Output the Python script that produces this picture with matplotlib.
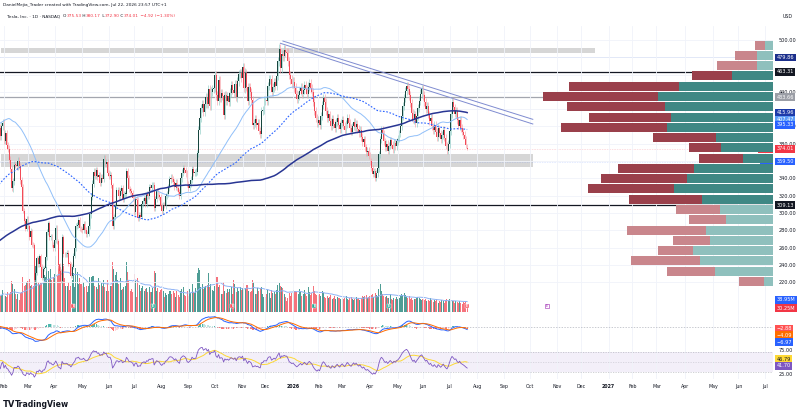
import numpy as np
import pandas as pd
import matplotlib
matplotlib.use("Agg")
import matplotlib.pyplot as plt
import matplotlib.transforms as mtransforms
from matplotlib.offsetbox import TextArea, HPacker, AnchoredOffsetbox
from pandas.tseries.holiday import USFederalHolidayCalendar
from pandas.tseries.offsets import CustomBusinessDay

plt.rcParams['font.family'] = ['DejaVu Sans']

# =============================================================================
#                               Data
# =============================================================================
# weekly closes Apr 2024 - Jan 2025, only used to warm up MAs / MACD / RSI
warmup_weekly = [164.9, 171.1, 147.1, 168.3, 181.2, 171.9, 177.5, 179.2, 178.1,
                 177.5, 178.0, 183.0, 197.9, 251.5, 248.2, 239.2, 219.8, 207.7,
                 200.0, 216.1, 220.3, 214.1, 210.7, 230.3, 238.3, 260.5, 250.1,
                 217.8, 220.7, 269.2, 248.9, 321.2, 320.7, 352.6, 345.2, 389.2,
                 436.2, 421.1, 431.7, 410.4, 394.7, 426.5, 406.6]

# daily closes, Jan 27 2025 -> Dec 31 2025
close_2025 = [
    397.2, 398.1, 389.1, 400.3, 404.6,
    383.7, 392.2, 378.2, 374.3, 361.6, 350.7, 328.5, 336.5, 355.9, 355.8, 354.1,
    360.6, 354.4, 337.8, 330.5, 302.8, 290.8, 281.9, 292.9,
    284.6, 272.0, 279.1, 263.5, 262.7, 222.2, 230.5, 248.0, 240.6, 249.9, 238.0,
    225.3, 235.8, 236.2, 248.7, 278.3, 288.1, 272.0, 273.1, 263.5, 259.2,
    268.5, 282.7, 267.3, 239.4, 233.3, 221.8, 272.2, 252.4, 252.3, 252.4, 254.1,
    241.4, 241.3, 227.5, 237.9, 250.7, 259.5, 284.9, 285.9, 292.0, 282.2, 281.0,
    280.5, 287.2, 280.3, 275.4, 276.2, 284.8, 298.3, 318.4, 334.1, 347.7, 342.8,
    349.9, 342.1, 343.8, 334.6, 341.0, 339.3, 362.9, 356.9, 358.4, 346.5,
    342.7, 344.3, 332.1, 284.7, 295.1, 308.6, 326.1, 326.4, 319.1, 325.3, 329.1,
    316.4, 322.1, 322.2, 348.7, 340.5, 327.6, 325.8, 323.6, 317.7,
    300.7, 315.7, 315.4, 293.9, 297.8, 295.9, 309.9, 313.5, 316.9, 310.8, 321.7,
    319.4, 329.7, 328.5, 332.1, 332.6, 305.3, 316.1, 325.6, 321.2, 319.0, 308.3,
    302.6, 309.3, 308.7, 319.9, 322.3, 329.7, 339.0, 340.8, 339.4, 335.6, 330.6,
    335.2, 329.3, 323.9, 320.1, 340.0, 346.6, 351.7, 349.6, 345.9, 333.9,
    329.4, 334.1, 338.5, 350.8, 346.4, 346.9, 347.8, 368.8, 395.9, 410.0, 421.6,
    425.9, 416.9, 426.1, 434.2, 425.9, 442.8, 423.4, 440.4, 443.2, 444.7,
    459.5, 436.0, 429.8, 453.3, 433.1, 438.7, 435.5, 413.5, 435.9, 429.2, 435.2,
    428.8, 439.3, 447.4, 442.6, 438.9, 448.9, 433.7, 452.4, 460.6, 461.5, 456.6,
    468.4, 444.3, 462.1, 445.9, 429.5, 445.2, 439.6, 430.6, 401.9, 404.4, 408.9,
    401.3, 403.9, 395.2, 391.1, 417.8, 419.4, 430.1,
    430.1, 429.2, 446.7, 454.5, 455.0, 439.6, 445.2, 451.5, 446.9, 458.9, 475.3,
    489.9, 467.3, 483.4, 481.2, 488.7, 485.6, 485.4, 475.2, 459.6, 454.4, 449.7,
]

# daily closes, Jan 2 2026 -> Jul 22 2026
close_2026 = [
    452, 445, 438, 432, 436, 441, 445, 438, 442, 448, 443, 438, 446, 450, 444,
    440, 428, 418, 410, 404,
    408, 402, 412, 425, 433, 428, 418, 410, 414, 406, 400, 409, 403, 398, 405,
    410, 402, 397, 404,
    408, 401, 396, 403, 410, 404, 398, 394, 400, 405, 399, 403, 397, 392, 396,
    388, 382, 385, 376, 370, 372, 366,
    360, 352, 345, 348, 341, 346, 352, 368, 385, 396, 392, 383, 376, 380, 372,
    378, 384, 379, 374, 381, 377, 383,
    386, 392, 400, 412, 424, 433, 441, 447, 443, 436, 427, 416, 408, 414, 404,
    412, 421, 430, 438, 443,
    436, 428, 420, 424, 414, 406, 410, 400, 396, 402, 394, 388, 398, 392, 385,
    390, 396, 387, 378, 372, 380,
    395, 414, 428, 422, 415, 418, 407, 401, 408, 398, 394, 390, 385, 378.93, 374.01,
]

# daily volume (millions)
vol_2025 = [
    60, 68, 62, 65, 83,
    77, 62, 57, 77, 70, 77, 118, 106, 89, 68, 51, 67, 45, 74, 76, 134, 100, 101, 115,
    116, 126, 98, 102, 100, 190, 174, 114, 114, 101, 111, 111, 111, 142, 132, 170,
    157, 126, 162, 123, 134,
    146, 212, 136, 181, 184, 171, 219, 182, 128, 100, 100, 113, 83, 97, 120, 150,
    94, 167, 151, 108, 128, 108,
    99, 114, 95, 100, 75, 97, 132, 132, 136, 136, 97, 95, 88, 131, 102, 110, 98,
    120, 95, 81, 123,
    81, 99, 99, 190, 164, 140, 151, 122, 105, 128, 83, 88, 95, 99, 190, 153, 119,
    80, 89, 76,
    145, 119, 58, 131, 103, 80, 92, 97, 79, 88, 91, 75, 94, 77, 77, 92, 156, 148,
    81, 92, 77, 85,
    89, 78, 57, 72, 65, 70, 80, 78, 67, 80, 74, 56, 78, 64, 56, 81, 86, 94, 65, 61, 81,
    59, 88, 73, 108, 75, 72, 90, 150, 168, 158, 95, 105, 89, 95, 100, 102, 150, 96,
    105, 85, 81,
    98, 132, 133, 95, 102, 70, 70, 113, 80, 72, 88, 75, 89, 95, 68, 120, 105, 75,
    90, 80, 95, 82,
    90, 110, 90, 102, 104, 80, 75, 80, 120, 115, 70, 70, 90, 80, 90, 95, 70, 56,
    58, 68, 82, 72, 55, 84, 72, 75, 70, 85, 102, 110, 100, 96, 90, 68, 58, 40, 55,
    74, 60, 72,
]
vol_2026 = [
    85, 80, 78, 76, 70, 88, 75, 62, 68, 82, 70, 60, 95, 76, 66, 72, 100, 80, 70, 64,
    66, 70, 62, 78, 72, 58, 55, 60, 52, 56, 64, 50, 54, 60, 48, 58, 55, 52, 50,
    55, 48, 52, 60, 50, 46, 52, 58, 48, 45, 50, 56, 48, 52, 45, 55, 62, 58, 60, 66,
    54, 58,
    62, 66, 70, 58, 72, 64, 60, 88, 106, 80, 70, 62, 56, 60, 52, 55, 68, 50, 46, 52,
    48, 56,
    50, 54, 62, 70, 66, 72, 64, 58, 52, 60, 48, 54, 45, 50, 48, 52, 58, 55, 50, 46,
    48, 44, 50, 42, 46, 40, 52, 45, 38, 44, 40, 48, 36, 42, 38, 44, 40, 36, 46, 50, 42,
    48, 44, 42, 40, 36, 42, 38, 34, 40, 36, 32, 38, 35, 40, 30.25,
]

last_ohlc = (375.53, 380.17, 372.90, 374.01)

# visible-range volume profile, bins from 215 upward (millions, up / down)
vp_low, vp_step = 215.0, 11.875
vp_up = [90, 580, 730, 800, 630, 670, 470, 530, 710, 990, 860, 790, 300, 520,
         570, 1060, 1020, 1080, 1150, 940, 410, 160, 160, 80]
vp_down = [250, 480, 690, 350, 370, 790, 370, 440, 730, 860, 860, 760, 440, 320,
           630, 1060, 820, 980, 1150, 1100, 400, 400, 220, 100]
va_rows = (8, 20)

levels = {479.86: '#8ea2e6', 463.31: '#131722', 433.66: '#a3a6af', 309.13: '#131722'}
zones = [('2025-01-30', '2026-12-16', 484.6, 490.6),
         ('2025-01-30', '2026-10-05', 353.0, 368.0)]
trendlines = [(('2025-12-19', 498.8), ('2026-10-05', 408.3)),
              (('2025-12-17', 496.2), ('2026-10-05', 402.9))]
earnings = [('2025-04-22', '#f7525f'), ('2025-07-23', '#22ab94'),
            ('2025-10-22', '#f7525f'), ('2026-01-28', '#22ab94'),
            ('2026-04-22', '#22ab94'), ('2026-07-22', '#f7525f')]
next_earnings = '2026-10-21'

# =============================================================================
#                               Series
# =============================================================================
close = np.array(close_2025 + close_2026, dtype=float)
vol = np.array(vol_2025 + vol_2026, dtype=float)
n = min(len(close), len(vol))
close, vol = close[-n:], vol[-n:]

bday = CustomBusinessDay(calendar=USFederalHolidayCalendar())
dates = pd.date_range(end='2026-07-22', periods=n, freq=bday)
future = pd.date_range(start='2026-07-23', end='2027-08-12', freq=bday)
all_dates = dates.append(future)
xi = np.arange(n)

def idx(d):
    return int(all_dates.searchsorted(pd.Timestamp(d)))

opn = np.r_[close[0], close[:-1]]
opn[-1] = last_ohlc[0]
wick = 0.011 * close
hi = np.maximum(opn, close) + wick
lo = np.minimum(opn, close) - wick
hi[-1], lo[-1] = last_ohlc[1], last_ohlc[2]

s = pd.Series(np.r_[np.repeat(warmup_weekly, 5), close])
sma50 = s.rolling(50).mean().values[-n:]
sma100 = s.rolling(100).mean().values[-n:]
sma200 = s.rolling(200).mean().values[-n:]

macd = s.ewm(span=12, adjust=False).mean() - s.ewm(span=26, adjust=False).mean()
signal = macd.ewm(span=9, adjust=False).mean()
hist = (macd - signal).values[-n:]
macd, signal = macd.values[-n:], signal.values[-n:]

d = s.diff()
gain = d.clip(lower=0).ewm(alpha=1 / 14, adjust=False).mean()
loss = (-d.clip(upper=0)).ewm(alpha=1 / 14, adjust=False).mean()
rsi_s = 100 - 100 / (1 + gain / loss)
rsi = rsi_s.values[-n:]
rsi_ma = rsi_s.rolling(14).mean().values[-n:]

vol_ma = pd.Series(vol).rolling(20, min_periods=1).mean().values

# =============================================================================
#                               Figure
# =============================================================================
W, H = 800, 415
RIGHT = 773
fig = plt.figure(figsize=(W / 100, H / 100), dpi=100)
fig.patch.set_facecolor('white')

def pane(top, bottom, z):
    a = fig.add_axes([0, 1 - bottom / H, RIGHT / W, (bottom - top) / H])
    a.set_zorder(z)
    a.patch.set_visible(False)
    for sp in a.spines.values():
        sp.set_visible(False)
    return a

ax_vol = pane(230, 312, 1)
ax = pane(26, 315, 2)
ax_vp = pane(26, 315, 3)
ax_macd = pane(315, 347, 2)
ax_rsi = pane(347, 379, 2)

# x mapping: Mar 2025 label at px 28, Jul 2027 label at px 765
i_a, i_b = idx('2025-03-01'), idx('2027-07-01')
b = (765 - 28) / (i_b - i_a)
a0 = 28 - b * i_a
xlim = (-a0 / b, (RIGHT - a0) / b)

months = [i for i in range(1, len(all_dates)) if all_dates[i].month != all_dates[i - 1].month]
mlabels = [str(all_dates[i].year) if all_dates[i].month == 1 else all_dates[i].strftime('%b')
           for i in months]

grid_c = '#f0f3fa'
for a in (ax, ax_vol, ax_macd, ax_rsi):
    a.set_xticks(months)
    a.set_xlim(*xlim)
    a.tick_params(axis='x', length=0, labelbottom=False)
    a.tick_params(axis='y', length=0)
for a in (ax, ax_macd, ax_rsi):
    a.grid(True, axis='x', color=grid_c, lw=0.6)
ax.grid(True, axis='y', color=grid_c, lw=0.6)
ax_vol.set_yticks([])

ax_rsi.set_xticklabels(mlabels)
ax_rsi.tick_params(axis='x', labelbottom=True, labelsize=3.4, colors='#131722', pad=3.5)
for t in ax_rsi.get_xticklabels():
    if t.get_text().isdigit():
        t.set_fontweight('bold')

# ---- price pane
ylo, yhi = 500 - (315 - 40) / 0.865, 500 + (40 - 26) / 0.865
ax.set_ylim(ylo, yhi)
ax.yaxis.tick_right()
pticks = np.arange(220, 501, 20)
ax.set_yticks(pticks)
# ticks that sit fully under a coloured price tag are not shown
ax.set_yticklabels(['' if p in (360, 420, 460, 480) else f'{p:.2f}' for p in pticks])
ax.tick_params(axis='y', labelsize=3.6, colors='#131722', pad=4)

for x0, x1, p0, p1 in zones:
    ax.fill_between([idx(x0), idx(x1)], p0, p1, color='#d6d6d6', lw=0, zorder=1)
for lv, col in levels.items():
    ax.axhline(lv, color=col, lw=0.9 if col != '#8ea2e6' else 0.6, zorder=1.5)
ax.axhline(last_ohlc[3], color='#f23645', lw=0.4, ls=(0, (1, 2)), alpha=0.5, zorder=1.5)
ax.axhline(359.50, color='#2962ff', lw=0.4, ls=(0, (1, 2)), alpha=0.4, zorder=1.5)
for (d0, p0), (d1, p1) in trendlines:
    ax.plot([idx(d0), idx(d1)], [p0, p1], color='#7f8bd0', lw=0.7, zorder=2)

up = close >= opn
ax.vlines(xi, lo, hi, colors=np.where(up, '#8fcdc4', '#f6a0a7'), lw=0.45, zorder=3)
ax.bar(xi, np.maximum(np.abs(close - opn), 0.5), bottom=np.minimum(opn, close),
       width=0.75, color=np.where(up, '#17463f', '#f24b58'), lw=0, zorder=4)

ax.plot(xi, sma50, color='#90bff9', lw=0.7, zorder=5)
ax.plot(xi, sma100, color='#2962ff', lw=0.8, ls=(0, (1.5, 1.5)), zorder=5)
ax.plot(xi, sma200, color='#283593', lw=1.1, zorder=5)

# ---- volume
ax_vol.set_ylim(0, (312 - 230) * 3.8)
ax_vol.bar(xi, vol, width=0.8, color=np.where(up, '#4e9d95', '#f5737d'), lw=0)
ax_vol.plot(xi, vol_ma, color='#8fb3f5', lw=0.7)
tr_e = mtransforms.blended_transform_factory(ax_vol.transData, ax_vol.transAxes)
for dte, col in earnings:
    ax_vol.plot(idx(dte), 0.075, marker='s', ms=3.4, color=col, mec='white', mew=0.3,
                transform=tr_e, clip_on=False, zorder=6)
    ax_vol.text(idx(dte), 0.075, 'E', fontsize=2.3, color='white', ha='center',
                va='center', transform=tr_e, zorder=7, fontweight='bold')
ax_vol.plot(idx(next_earnings), 0.075, marker='s', ms=3.4, color='white', mec='#9c27b0',
            mew=0.4, transform=tr_e, zorder=6)
ax_vol.text(idx(next_earnings), 0.075, 'E', fontsize=2.3, color='#9c27b0', ha='center',
            va='center', transform=tr_e, zorder=7)

# ---- volume profile
ax_vp.set_ylim(ylo, yhi)
ax_vp.set_xlim(RIGHT * 10, 0)
ax_vp.set_xticks([])
ax_vp.set_yticks([])
rows = np.arange(len(vp_up))
centers = vp_low + vp_step * (rows + 0.5)
in_va = (rows >= va_rows[0]) & (rows <= va_rows[1])
ax_vp.barh(centers, vp_up, height=vp_step * 0.88,
           color=np.where(in_va, '#3f8884', '#8fc0bd'), lw=0)
ax_vp.barh(centers, vp_down, left=vp_up, height=vp_step * 0.88,
           color=np.where(in_va, '#9a404b', '#c9868c'), lw=0)

# ---- MACD
ax_macd.set_ylim(-50, 32)
ax_macd.set_yticks([])
ax_macd.axhline(0, color='#b2b5be', lw=0.5, ls=(0, (2, 2)))
dh = np.r_[0, np.diff(hist)]
hcol = np.where(hist >= 0, np.where(dh >= 0, '#26a69a', '#b2dfdb'),
                np.where(dh <= 0, '#ff5252', '#ffcdd2'))
ax_macd.bar(xi, hist, width=0.8, color=hcol, lw=0, alpha=0.8)
ax_macd.plot(xi, macd, color='#2962ff', lw=0.7)
ax_macd.plot(xi, signal, color='#ff6d00', lw=0.7)

# ---- RSI
ax_rsi.set_ylim(25 - 5 / 0.48, 75 + 3 / 0.48)
ax_rsi.yaxis.tick_right()
ax_rsi.set_yticks([25, 75])
ax_rsi.yaxis.set_major_formatter('{x:.2f}')
ax_rsi.tick_params(axis='y', labelsize=3.6, colors='#131722', pad=4)
ax_rsi.axhspan(30, 70, color='#7e57c2', alpha=0.09, lw=0)
for lv, al in ((70, 0.7), (50, 0.45), (30, 0.7)):
    ax_rsi.axhline(lv, color='#9598a1', lw=0.45, ls=(0, (2, 2)), alpha=al)
ax_rsi.plot(xi, rsi_ma, color='#fdd835', lw=0.7)
ax_rsi.plot(xi, rsi, color='#7e57c2', lw=0.6)

# =============================================================================
#                               Labels
# =============================================================================
def tag(a, y, text, bg, fg='white', x=1.0045, ha='left'):
    tr = mtransforms.blended_transform_factory(a.transAxes, a.transData)
    a.text(x, y, text, transform=tr, fontsize=3.6, color=fg, ha=ha, va='center',
           bbox=dict(boxstyle='square,pad=0.28', fc=bg, ec='none'), clip_on=False, zorder=20)

tag(ax, 479.86, '479.86', '#1c2f8c')
tag(ax, 463.31, '463.31', '#131722')
tag(ax, 433.66, '433.66', '#9b9ea6')
tag(ax, 415.96, '415.96', '#1c3aa9')
tag(ax, 408.2, '407.47', '#5b9cf6')
tag(ax, 402.0, '395.33', '#2962ff')
tag(ax, 374.01, '374.01', '#f23645')
tag(ax, 374.01, 'TSLA', '#f23645', x=0.998, ha='right')
tag(ax, 359.50, '359.50', '#2962ff')
tag(ax, 359.50, 'Post', '#2962ff', x=0.998, ha='right')
tag(ax, 309.13, '309.13', '#131722')
tag(ax_vol, 46, '38.95M', '#2962ff')
tag(ax_vol, 15, '30.25M', '#f23645')
tag(ax_macd, -2.88, '\u22122.88', '#ff5252')
tag(ax_macd, -20.0, '\u22124.09', '#ff6d00')
tag(ax_macd, -37.5, '\u22126.97', '#2962ff')
tag(ax_rsi, 56.0, '46.79', '#fdd835', fg='#131722')
tag(ax_rsi, 41.70, '41.70', '#7e57c2')

fig.text(3 / W, 1 - 5 / H, 'DanielMejia_Trader created with TradingView.com, Jul 22, 2026 23:57 UTC+1',
         fontsize=3.1, color='#131722', va='center', ha='left')
fig.text(788 / W, 1 - 17 / H, 'USD', fontsize=3.4, color='#131722', va='center', ha='center')

dark, red = '#131722', '#f23645'
o, h_, l_, c_ = last_ohlc
chg = c_ - close[-2]
parts = [('Tesla, Inc. \u00b7 1D \u00b7 NASDAQ  ', dark), ('O', dark), (f'{o:.2f}', red),
         (' H', dark), (f'{h_:.2f}', red), (' L', dark), (f'{l_:.2f}', red),
         (' C', dark), (f'{c_:.2f}', red),
         (f' \u2212{abs(chg):.2f} (\u2212{abs(chg) / close[-2] * 100:.2f}%)', red)]
box = HPacker(children=[TextArea(t, textprops=dict(fontsize=3.05, color=col)) for t, col in parts],
              pad=0, sep=0, align='baseline')
fig.add_artist(AnchoredOffsetbox(loc='center left', child=box, frameon=False, pad=0,
                                 borderpad=0, bbox_to_anchor=(7 / W, 1 - 16 / H),
                                 bbox_transform=fig.transFigure))

fig.text(3 / W, 1 - 404 / H, 'TV', fontsize=6, fontweight='heavy', color='#131722',
         va='center', ha='left')
fig.text(15 / W, 1 - 404 / H, 'TradingView', fontsize=5.6, fontweight='bold',
         color='#131722', va='center', ha='left')

fig.savefig('out.png', dpi=100)
